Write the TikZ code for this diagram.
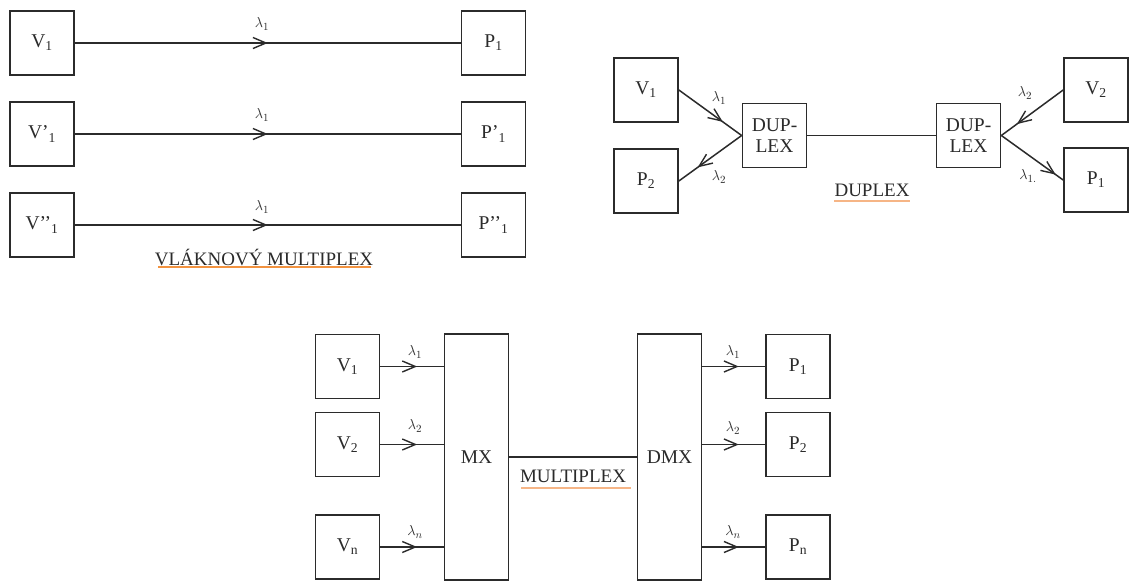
\documentclass[tikz,border=0pt]{standalone}
\usepackage{fontspec}
\setmainfont{Liberation Serif}
\usetikzlibrary{arrows.meta,decorations.markings}
\definecolor{ink}{HTML}{2B2B2B}
\definecolor{ulA}{HTML}{F2923F}
\definecolor{ulB}{HTML}{F6B586}
\tikzset{
  box/.style={draw=ink, text=ink, line width=1.7pt, minimum width=64pt, minimum height=64pt, inner sep=0pt,
    font=\fontsize{19.5}{21}\selectfont, align=center},
  wire/.style={draw=ink, line width=1.5pt},
  midarr/.style={postaction={decorate}, decoration={markings,
     mark=at position #1 with {\arrow[ink]{Straight Barb[length=13pt,width=11pt,line width=1.4pt]}}}},
  midarr/.default=0.5,
  lam/.style={text=ink, inner sep=0pt, font=\fontsize{15}{15}\selectfont},
  title/.style={text=ink, inner sep=0pt, font=\fontsize{19}{20}\selectfont},
  ul/.style={line width=1.6pt},
}
\begin{document}
\begin{tikzpicture}[x=1pt,y=-1pt]
\useasboundingbox[fill=white] (0,0) rectangle (1130,581);

% ---------- VLAKNOVY MULTIPLEX ----------
\node[box] (a1) at (42,43) {V\textsubscript{1}};
\node[box] (a2) at (42,134) {V’\textsubscript{1}};
\node[box] (a3) at (42,225) {V’’\textsubscript{1}};
\node[box] (b1) at (493.5,43) {P\textsubscript{1}};
\node[box] (b2) at (493.5,134) {P’\textsubscript{1}};
\node[box] (b3) at (493.5,225) {P’’\textsubscript{1}};
\draw[wire, midarr=0.5] (a1.east) -- (b1.west);
\draw[wire, midarr=0.5] (a2.east) -- (b2.west);
\draw[wire, midarr=0.5] (a3.east) -- (b3.west);
\node[lam] (la1) at (262,24) {$\lambda_1$};
\node[lam] (la2) at (262,115) {$\lambda_1$};
\node[lam] (la3) at (262,207) {$\lambda_1$};
\node[title] (t1) at (264,257) {VLÁKNOVÝ MULTIPLEX};
\coordinate (u1a) at (158,267);
\coordinate (u1b) at (371,267);
\draw[ul, ulA] (u1a) -- (u1b);

% ---------- DUPLEX ----------
\node[box] (dv1) at (646,90) {V\textsubscript{1}};
\node[box] (dp2) at (646,181) {P\textsubscript{2}};
\node[box] (dl) at (774.5,135.5) {DUP-\\LEX};
\node[box] (dr) at (968.5,135.5) {DUP-\\LEX};
\node[box] (dv2) at (1096,90) {V\textsubscript{2}};
\node[box] (dp1) at (1096,180) {P\textsubscript{1}};
\draw[wire, midarr=0.7] (dv1.east) -- (dl.west);
\draw[wire, midarr=0.7] (dl.west) -- (dp2.east);
\draw[wire] (dl.east) -- (dr.west);
\draw[wire, midarr=0.75] (dv2.west) -- (dr.east);
\draw[wire, midarr=0.88] (dr.east) -- (dp1.west);
\node[lam] (ld1) at (719,98) {$\lambda_1$};
\node[lam] (ld2) at (719,177) {$\lambda_2$};
\node[lam] (ld3) at (1025,93) {$\lambda_2$};
\node[lam] (ld4) at (1028,176) {$\lambda_{1.}$};
\node[title] (t2) at (872,190) {DUPLEX};
\coordinate (u2a) at (834,201);
\coordinate (u2b) at (910,201);
\draw[ul, ulB] (u2a) -- (u2b);

% ---------- MULTIPLEX ----------
\node[box] (mv1) at (347.5,366.5) {V\textsubscript{1}};
\node[box] (mv2) at (347.5,444.5) {V\textsubscript{2}};
\node[box] (mvn) at (347.5,547) {V\textsubscript{n}};
\node[box, minimum height=246pt] (mx) at (476.5,457) {MX};
\node[box, minimum height=246pt] (dmx) at (669.5,457) {DMX};
\node[box] (mp1) at (798,366.5) {P\textsubscript{1}};
\node[box] (mp2) at (798,444.5) {P\textsubscript{2}};
\node[box] (mpn) at (798,547) {P\textsubscript{n}};
\draw[wire, midarr=0.58] (mv1.east) -- (mv1.east -| mx.west);
\draw[wire, midarr=0.58] (mv2.east) -- (mv2.east -| mx.west);
\draw[wire, midarr=0.58] (mvn.east) -- (mvn.east -| mx.west);
\draw[wire] (mx.east) -- (dmx.west);
\draw[wire, midarr=0.58] (mp1.west -| dmx.east) -- (mp1.west);
\draw[wire, midarr=0.58] (mp2.west -| dmx.east) -- (mp2.west);
\draw[wire, midarr=0.58] (mpn.west -| dmx.east) -- (mpn.west);
\node[lam] (lm1) at (415,352) {$\lambda_1$};
\node[lam] (lm2) at (415,426) {$\lambda_2$};
\node[lam] (lm3) at (415,532) {$\lambda_n$};
\node[lam] (lm4) at (733,352) {$\lambda_1$};
\node[lam] (lm5) at (733,428) {$\lambda_2$};
\node[lam] (lm6) at (733,532) {$\lambda_n$};
\node[title] (t3) at (573,476) {MULTIPLEX};
\coordinate (u3a) at (521,488);
\coordinate (u3b) at (631,488);
\draw[ul, ulB] (u3a) -- (u3b);
\end{tikzpicture}
\end{document}
